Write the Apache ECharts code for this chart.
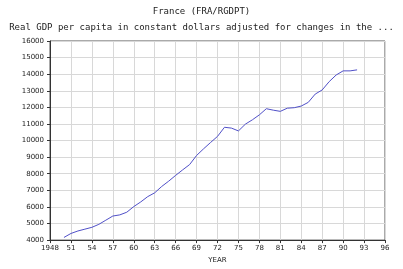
<!DOCTYPE html>
<html><head><meta charset="utf-8">
<script src="https://cdn.jsdelivr.net/npm/echarts@6/dist/echarts.min.js"></script>
<style>html,body{margin:0;padding:0;background:#fff}#c{width:403px;height:269px}</style>
</head><body><div id="c"></div>
<script>
var years = [1950,1951,1952,1953,1954,1955,1956,1957,1958,1959,1960,1961,1962,1963,1964,1965,1966,1967,1968,1969,1970,1971,1972,1973,1974,1975,1976,1977,1978,1979,1980,1981,1982,1983,1984,1985,1986,1987,1988,1989,1990,1991,1992];
var rgdpt = [4160,4400,4550,4660,4770,4950,5200,5450,5520,5680,6020,6300,6620,6850,7230,7550,7900,8230,8550,9100,9500,9880,10250,10800,10750,10580,10990,11250,11550,11920,11830,11760,11950,11980,12080,12300,12800,13050,13550,13950,14200,14200,14260];
var titleText = "France (FRA/RGDPT)";
var subtitleText = "Real GDP per capita in constant dollars adjusted for changes in the ...";
var xName = "YEAR";

var chart = echarts.init(document.getElementById('c'), null, {renderer:'canvas'});
var pts = years.map(function(y,i){return [y, rgdpt[i]];});
chart.setOption({
  animation:false,
  backgroundColor:'#fff',
  title:[
    {text:titleText, left:'center', top:2, textStyle:{fontFamily:'DejaVu Sans Mono', fontSize:9, fontWeight:'normal', color:'#222'}},
    {text:subtitleText, left:'center', top:18, textStyle:{fontFamily:'DejaVu Sans Mono', fontSize:9, fontWeight:'normal', color:'#222'}}
  ],
  grid:{left:50, right:18, top:41, bottom:26, show:true, borderColor:'#555', borderWidth:1},
  xAxis:{type:'value', min:1948, max:1996, interval:3,
    name:xName, nameLocation:'middle', nameGap:14,
    nameTextStyle:{fontFamily:'DejaVu Sans', fontSize:7, color:'#222'},
    axisLine:{lineStyle:{color:'#333'}},
    axisTick:{length:3, lineStyle:{color:'#333'}},
    axisLabel:{fontFamily:'DejaVu Sans', fontSize:7, color:'#222', margin:5,
      formatter:function(v){return v===1948?'1948':String(v%100);}},
    splitLine:{show:true, lineStyle:{color:'#d8d8d8', width:1}}
  },
  yAxis:{type:'value', min:4000, max:16000, interval:1000,
    axisLine:{show:true, lineStyle:{color:'#333'}},
    axisTick:{show:true, length:3, lineStyle:{color:'#333'}},
    axisLabel:{fontFamily:'DejaVu Sans', fontSize:7, color:'#222', margin:6,
      formatter:function(v){return String(v);}},
    splitLine:{show:true, lineStyle:{color:'#d8d8d8', width:1}}
  },
  series:[{type:'line', data:pts, showSymbol:false, lineStyle:{color:'#5050c8', width:1}}]
});
</script></body></html>
